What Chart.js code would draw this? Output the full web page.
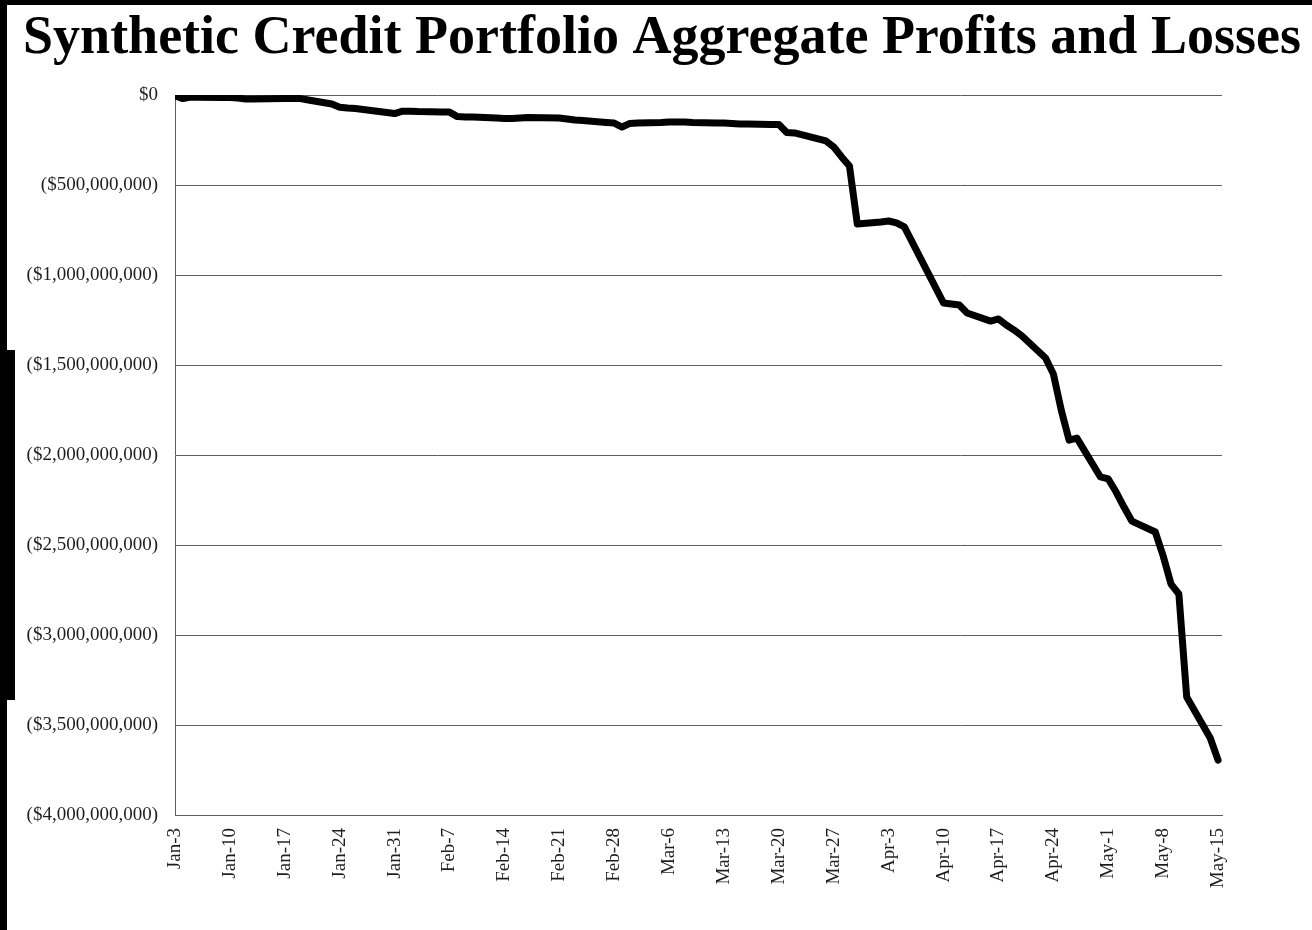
<!DOCTYPE html>
<html>
<head>
<meta charset="utf-8">
<script src="https://cdn.jsdelivr.net/npm/chart.js@4.4.1/dist/chart.umd.min.js"></script>
<style>
  html, body { margin: 0; padding: 0; background: #ffffff; }
  #wrap { position: relative; width: 1312px; height: 930px; overflow: hidden; background: #fff; }
  #c { position: absolute; left: 0; top: 0; }
  .scan { position: absolute; background: #000; }
</style>
</head>
<body>
<div id="wrap">
  <canvas id="c" width="1312" height="930"></canvas>
  <div class="scan" style="left:0;top:0;width:1312px;height:5px;"></div>
  <div class="scan" style="left:0;top:0;width:7px;height:930px;"></div>
  <div class="scan" style="left:0;top:350px;width:15px;height:350px;"></div>
</div>
<script>
// Trading dates (2012) and their offsets in calendar days from Jan-3
const tradeDates = ["Jan-3","Jan-4","Jan-5","Jan-6","Jan-9","Jan-10","Jan-11","Jan-12","Jan-13","Jan-17","Jan-18","Jan-19","Jan-20","Jan-23","Jan-24","Jan-25","Jan-26","Jan-27","Jan-30","Jan-31",
  "Feb-1","Feb-2","Feb-3","Feb-6","Feb-7","Feb-8","Feb-9","Feb-10","Feb-13","Feb-14","Feb-15","Feb-16","Feb-17","Feb-21","Feb-22","Feb-23","Feb-24","Feb-27","Feb-28","Feb-29",
  "Mar-1","Mar-2","Mar-5","Mar-6","Mar-7","Mar-8","Mar-9","Mar-12","Mar-13","Mar-14","Mar-15","Mar-16","Mar-19","Mar-20","Mar-21","Mar-22","Mar-23","Mar-26","Mar-27","Mar-28","Mar-29","Mar-30",
  "Apr-2","Apr-3","Apr-4","Apr-5","Apr-9","Apr-10","Apr-11","Apr-12","Apr-13","Apr-16","Apr-17","Apr-18","Apr-19","Apr-20","Apr-23","Apr-24","Apr-25","Apr-26","Apr-27","Apr-30",
  "May-1","May-2","May-3","May-4","May-7","May-8","May-9","May-10","May-11","May-14","May-15"];

const dayOffsets = [0,1,2,3,6,7,8,9,10,14,15,16,17,20,21,22,23,24,27,28,
  29,30,31,34,35,36,37,38,41,42,43,44,45,49,50,51,52,55,56,57,
  58,59,62,63,64,65,66,69,70,71,72,73,76,77,78,79,80,83,84,85,86,87,
  90,91,92,93,97,98,99,100,101,104,105,106,107,108,111,112,113,114,115,118,
  119,120,121,122,125,126,127,128,129,132,133];

// Aggregate P&L in $ millions
const pnlMillions = [-5,-20,-12,-12,-14,-14,-17,-22,-22,-20,-19,-20,-28,-50,-68,-72,-75,-80,-97,-103,
  -90,-90,-92,-95,-95,-120,-122,-122,-128,-130,-131,-128,-125,-128,-133,-139,-142,-153,-156,-178,
  -158,-156,-153,-150,-150,-150,-153,-156,-156,-158,-161,-161,-164,-164,-208,-211,-222,-255,-289,-344,-395,-717,
  -706,-700,-711,-733,-1072,-1156,-1161,-1167,-1211,-1256,-1244,-1278,-1306,-1339,-1461,-1550,-1750,-1917,-1906,-2122,
  -2133,-2206,-2289,-2367,-2428,-2561,-2717,-2772,-3345,-3572,-3695];

// X-axis tick labels (weekly) and their offsets
const tickLabels = ["Jan-3","Jan-10","Jan-17","Jan-24","Jan-31","Feb-7","Feb-14","Feb-21","Feb-28","Mar-6","Mar-13","Mar-20","Mar-27","Apr-3","Apr-10","Apr-17","Apr-24","May-1","May-8","May-15"];
const tickOffsets = [0,7,14,21,28,35,42,49,56,63,70,77,84,91,98,105,112,119,126,133];

const points = dayOffsets.map((d, i) => ({ x: d, y: pnlMillions[i] * 1e6 }));

const serif = '"Liberation Serif", "Times New Roman", serif';
const textColor = '#1e1e1e';
const gridColor = '#5e5e5e';

new Chart(document.getElementById('c'), {
  type: 'line',
  data: {
    datasets: [{
      label: 'Aggregate P&L',
      data: points,
      borderColor: '#000000',
      borderWidth: 7,
      pointRadius: 0,
      tension: 0,
      borderJoinStyle: 'round',
      borderCapStyle: 'round',
      fill: false
    }]
  },
  options: {
    responsive: false,
    animation: false,
    layout: { padding: { left: 12, right: 0, top: 0, bottom: 0 } },
    plugins: {
      legend: { display: false },
      tooltip: { enabled: false },
      title: {
        display: true,
        text: 'Synthetic Credit Portfolio Aggregate Profits and Losses',
        color: '#000000',
        font: { family: serif, size: 54, weight: 'bold', lineHeight: 1.2 },
        padding: { top: 7, bottom: 23.2 }
      }
    },
    scales: {
      x: {
        type: 'linear',
        min: 0,
        max: 133.5,
        afterBuildTicks: (s) => { s.ticks = tickOffsets.map(v => ({ value: v })); },
        afterFit: (s) => { s.height = 115; },
        grid: { display: false, drawTicks: false },
        border: { display: true, color: gridColor, width: 1 },
        ticks: {
          autoSkip: false,
          maxRotation: 90,
          minRotation: 90,
          padding: 13,
          color: textColor,
          font: { family: serif, size: 19 },
          callback: (v) => { const i = tickOffsets.indexOf(v); return i >= 0 ? tickLabels[i] : ''; }
        }
      },
      y: {
        type: 'linear',
        min: -4000000000,
        max: 0,
        afterFit: (s) => { s.width = 163; },
        grid: { display: true, color: gridColor, lineWidth: 1, drawTicks: false },
        border: { display: true, color: gridColor, width: 1 },
        ticks: {
          stepSize: 500000000,
          padding: 17,
          color: textColor,
          font: { family: serif, size: 19 },
          callback: (v) => v === 0 ? '$0' : '($' + Math.abs(v).toLocaleString('en-US') + ')'
        }
      },
      yRight: {
        type: 'linear',
        position: 'right',
        display: true,
        afterFit: (s) => { s.width = 90; },
        grid: { display: false, drawTicks: false },
        border: { display: false },
        ticks: { display: false }
      }
    }
  }
});
</script>
</body>
</html>
